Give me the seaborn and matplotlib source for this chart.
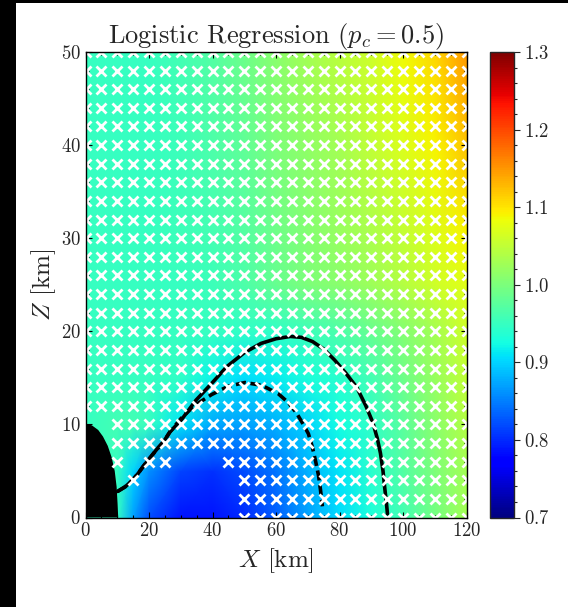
import numpy as np
import pandas as pd
import matplotlib
matplotlib.use("Agg")
import matplotlib.pyplot as plt
import matplotlib.patches as mpatches
from matplotlib.ticker import MultipleLocator
import seaborn as sns

# ---------------- data ----------------
# coarse field (value on jet scale 0.7 - 1.3)
field_x = [0, 10, 15, 20, 30, 40, 50, 60, 70, 80, 90, 100, 110, 120]
field_z = [0, 5, 10, 15, 20, 25, 30, 40, 50]
field_z0 = [0.95, 0.95, 0.87, 0.82, 0.785, 0.785, 0.80, 0.83, 0.87, 0.905, 0.93, 0.96, 0.995, 1.03]
field_z5 = [0.95, 0.95, 0.90, 0.86, 0.815, 0.805, 0.82, 0.845, 0.88, 0.91, 0.94, 0.97, 1.00, 1.03]
field_z10 = [0.95, 0.96, 0.96, 0.95, 0.91, 0.875, 0.87, 0.88, 0.90, 0.925, 0.945, 0.975, 1.01, 1.04]
field_z15 = [0.95, 0.95, 0.95, 0.95, 0.945, 0.92, 0.905, 0.915, 0.93, 0.94, 0.96, 0.99, 1.02, 1.05]
field_z20 = [0.95, 0.95, 0.95, 0.95, 0.95, 0.95, 0.945, 0.945, 0.955, 0.965, 0.985, 1.005, 1.03, 1.06]
field_z25 = [0.95, 0.95, 0.95, 0.95, 0.95, 0.955, 0.965, 0.985, 1.00, 1.01, 1.025, 1.04, 1.06, 1.075]
field_z30 = [0.95, 0.95, 0.95, 0.95, 0.955, 0.96, 0.97, 0.99, 1.005, 1.02, 1.035, 1.05, 1.07, 1.09]
field_z40 = [0.95, 0.95, 0.95, 0.95, 0.955, 0.965, 0.98, 1.00, 1.015, 1.03, 1.05, 1.07, 1.09, 1.12]
field_z50 = [0.95, 0.95, 0.95, 0.95, 0.96, 0.97, 0.99, 1.01, 1.03, 1.045, 1.06, 1.085, 1.11, 1.15]

# obstacle outline (black region at the origin)
obstacle_x = [0.0, 2.0, 4.0, 5.5, 7.0, 8.2, 9.2, 9.8, 10.1, 10.3, 0.0]
obstacle_z = [10.1, 9.9, 9.4, 8.7, 7.7, 6.5, 5.0, 3.3, 1.5, 0.0, 0.0]

# outer boundary (solid) and inner boundary (dashed)
outer_x = [10.1, 12.5, 14.5, 16.5, 18.2, 20.3, 22.4, 24.5, 26.6, 30.0, 34.8, 40.0, 44.5, 50.0,
           55.3, 60.0, 64.5, 68.0, 71.5, 75.0, 78.5, 82.0, 85.4, 88.3, 90.5, 91.9, 92.9, 93.7,
           94.3, 94.8, 95.1]
outer_z = [2.8, 3.3, 3.9, 4.7, 5.5, 6.4, 7.3, 8.1, 9.2, 10.4, 12.6, 14.5, 16.2, 17.7,
           18.7, 19.2, 19.45, 19.35, 18.9, 18.1, 16.9, 15.5, 14.0, 12.0, 10.2, 8.5, 6.9, 5.0,
           3.0, 1.5, 0.4]
inner_x = [10.1, 12.5, 14.5, 16.5, 18.2, 20.3, 22.4, 24.5, 26.6, 30.0, 34.2, 39.7, 45.0, 50.2,
           55.5, 60.7, 64.0, 66.5, 68.6, 70.2, 71.5, 72.5, 73.4, 74.0, 74.6]
inner_z = [2.8, 3.3, 3.9, 4.7, 5.5, 6.4, 7.3, 8.1, 9.2, 10.6, 12.0, 13.2, 14.1, 14.5,
           14.2, 13.3, 12.3, 11.2, 10.0, 9.0, 7.5, 6.0, 4.5, 3.0, 1.2]

# cross markers on a regular grid; some grid points carry no cross
cross_grid_x = [0, 5, 10, 15, 20, 25, 30, 35, 40, 45, 50, 55, 60, 65, 70, 75, 80, 85, 90,
                95, 100, 105, 110, 115, 120]
cross_grid_z = [0, 2, 4, 6, 8, 10, 12, 14, 16, 18, 20, 22, 24, 26, 28, 30, 32, 34, 36, 38,
                40, 42, 44, 46, 48, 50]
cross_absent = {
    0: [0, 5, 10, 15, 20, 25, 30, 35, 40, 45],
    2: [0, 5, 10, 15, 20, 25, 30, 35, 40, 45],
    4: [0, 5, 10, 20, 25, 30, 35, 40, 45],
    6: [0, 5, 15, 30, 35, 40],
    8: [0, 5],
    10: [0, 5],
}

cbar_ticks = [0.7, 0.8, 0.9, 1.0, 1.1, 1.2, 1.3]
x_ticks = [0, 20, 40, 60, 80, 100, 120]
z_ticks = [0, 10, 20, 30, 40, 50]

# ---------------- style ----------------
sns.set_style("ticks")
plt.rcParams["font.family"] = ["serif"]
plt.rcParams["font.serif"] = ["cmr10", "DejaVu Serif"]
plt.rcParams["mathtext.fontset"] = "cm"
plt.rcParams["axes.formatter.use_mathtext"] = True
plt.rcParams["axes.unicode_minus"] = False

fig = plt.figure(figsize=(5.68, 6.07), dpi=100)
fig.patch.set_facecolor("white")
# black border strips (left and top) present in the reference crop
fig.patches.append(mpatches.Rectangle((0, 0), 16 / 568, 1, transform=fig.transFigure,
                                      facecolor="black", edgecolor="none", zorder=-1))
fig.patches.append(mpatches.Rectangle((0, 1 - 3 / 607), 1, 3 / 607, transform=fig.transFigure,
                                      facecolor="black", edgecolor="none", zorder=-1))

ax = fig.add_axes([85.5 / 568, 1 - 517.5 / 607, 381 / 568, 465.5 / 607])
cax = fig.add_axes([490 / 568, 1 - 517.5 / 607, 24 / 568, 465.5 / 607])

V = np.array([field_z0, field_z5, field_z10, field_z15, field_z20,
              field_z25, field_z30, field_z40, field_z50])
mesh = ax.pcolormesh(field_x, field_z, V, shading="gouraud", cmap="jet",
                     vmin=0.7, vmax=1.3, zorder=0, rasterized=True)

ax.fill(obstacle_x, obstacle_z, color="black", zorder=2, linewidth=0)

outer_df = pd.DataFrame({"x": outer_x, "z": outer_z})
inner_df = pd.DataFrame({"x": inner_x, "z": inner_z})
sns.lineplot(data=outer_df, x="x", y="z", sort=False, estimator=None,
             color="black", lw=2.6, ax=ax, zorder=3)
sns.lineplot(data=inner_df, x="x", y="z", sort=False, estimator=None,
             color="black", lw=2.6, ax=ax, zorder=3, linestyle=(0, (2.8, 1.3)))

rows = []
for zz in cross_grid_z:
    skip = cross_absent.get(zz, [])
    for xx in cross_grid_x:
        if xx not in skip:
            rows.append((xx, zz))
crosses = pd.DataFrame(rows, columns=["x", "z"])
sns.scatterplot(data=crosses, x="x", y="z", marker="x", color="white", s=52,
                linewidth=2.0, ax=ax, zorder=4, legend=False)

ax.set_xlim(0, 120)
ax.set_ylim(0, 50)
ax.set_xticks(x_ticks)
ax.set_yticks(z_ticks)
ax.xaxis.set_minor_locator(MultipleLocator(5))
ax.yaxis.set_minor_locator(MultipleLocator(2))
ax.tick_params(which="both", direction="in", top=True, right=True, labelsize=13.5,
               color="black", width=0.8)
ax.tick_params(which="major", length=4)
ax.tick_params(which="minor", length=2)
for s in ax.spines.values():
    s.set_linewidth(1.0)
    s.set_color("black")
    s.set_zorder(6)

ax.set_xlabel(r"$X$ [km]", fontsize=18, labelpad=4)
ax.set_ylabel(r"$Z$ [km]", fontsize=18, labelpad=2)
ax.set_title(r"Logistic Regression ($p_c = 0.5$)", fontsize=19, pad=3)

cb = fig.colorbar(mesh, cax=cax)
cb.set_ticks(cbar_ticks)
cb.ax.yaxis.set_minor_locator(MultipleLocator(0.02))
cb.ax.tick_params(which="both", direction="out", labelsize=13.5, width=0.8)
cb.ax.tick_params(which="major", length=4)
cb.ax.tick_params(which="minor", length=2)
cb.outline.set_linewidth(1.0)

fig.savefig("out.png", dpi=100, facecolor="white")
